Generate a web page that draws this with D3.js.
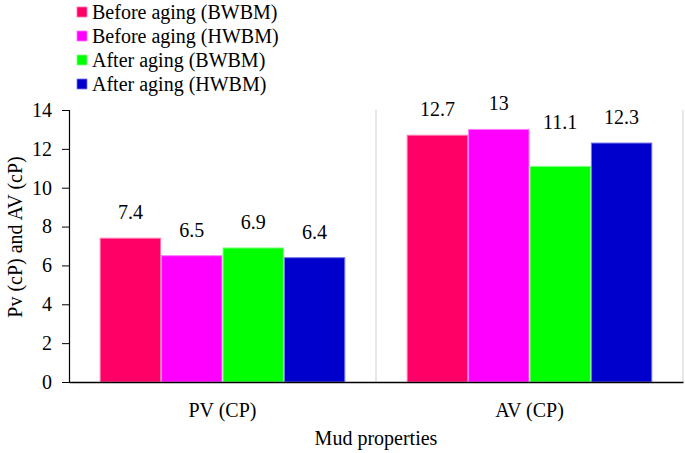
<!DOCTYPE html>
<html><head><meta charset="utf-8">
<script src="https://cdn.jsdelivr.net/npm/d3@7"></script>
<style>body{margin:0;background:#fff}svg{display:block}svg text{fill:#000}</style>
</head><body><svg id="c" width="685" height="453"></svg>
<script>
const categories = ["PV (CP)", "AV (CP)"];
const seriesNames = ["Before aging (BWBM)", "Before aging (HWBM)", "After aging (BWBM)", "After aging (HWBM)"];
const beforeBWBM = [7.4, 12.7];
const beforeHWBM = [6.5, 13];
const afterBWBM = [6.9, 11.1];
const afterHWBM = [6.4, 12.3];
const yTicks = [0, 2, 4, 6, 8, 10, 12, 14];
const colors = ["#FF0066", "#FF00FF", "#00FF00", "#0000CC"];
const strokes = ["#ff77b0", "#ff77ff", "#88ff88", "#7777ee"];

const series = [beforeBWBM, beforeHWBM, afterBWBM, afterHWBM];
const FONT = "'Liberation Serif', 'Noto Serif', 'DejaVu Serif', 'Times New Roman', Times, serif";
const FS = 20;
const svg = d3.select("#c");
const m = {l: 69, r: 2, t: 110, b: 71};
const W = 685, H = 453;
const x0 = d3.scaleBand().domain(categories).range([m.l, W - m.r]).paddingInner(0).paddingOuter(0);
const x1 = d3.scaleBand().domain(d3.range(series.length)).range([0, x0.bandwidth()]).paddingInner(0).paddingOuter(0.5);
const y = d3.scaleLinear().domain([0, 14]).range([H - m.b, m.t]);

// gray dividers
categories.forEach(c => {
  svg.append("line").attr("x1", x0(c) + x0.bandwidth()).attr("x2", x0(c) + x0.bandwidth())
    .attr("y1", y(14)).attr("y2", y(0)).attr("stroke", "#d9d9d9").attr("stroke-width", 1.2);
});

// bars
series.forEach((s, i) => {
  svg.append("g").selectAll("rect").data(s).join("rect")
    .attr("x", (d, j) => x0(categories[j]) + x1(i) + 0.5)
    .attr("y", d => y(d))
    .attr("width", x1.bandwidth() - 1)
    .attr("height", d => y(0) - y(d))
    .attr("fill", colors[i]).attr("stroke", strokes[i]).attr("stroke-width", 1);
  svg.append("g").selectAll("text").data(s).join("text")
    .attr("x", (d, j) => x0(categories[j]) + x1(i) + x1.bandwidth() / 2)
    .attr("y", (d, j) => y(d) - 19 - (d === 11.1 ? 18 : 0))
    .attr("text-anchor", "middle").attr("font-size", FS).style("font-family", FONT).text(d => d);
});

// y axis
const ya = svg.append("g").attr("transform", `translate(${m.l},0)`)
  .call(d3.axisLeft(y).tickValues(yTicks).tickSize(7).tickPadding(10));
ya.attr("font-family", null);
ya.select(".domain").attr("stroke", "#000").attr("stroke-width", 1.2);
ya.selectAll(".tick line").attr("stroke", "#000");
ya.selectAll(".tick text").attr("font-size", FS).style("font-family", FONT).attr("fill", "#000");

// x axis
const xa = svg.append("g").attr("transform", `translate(0,${y(0)})`)
  .call(d3.axisBottom(x0).tickSize(0).tickPadding(21));
xa.attr("font-family", null);
xa.select(".domain").attr("stroke", "#000").attr("stroke-width", 1.5);
xa.selectAll(".tick text").attr("font-size", FS).style("font-family", FONT).attr("fill", "#000");

// axis titles
svg.append("text").attr("x", (m.l + W - m.r) / 2).attr("y", 445).attr("text-anchor", "middle")
  .attr("font-size", FS).style("font-family", FONT).text("Mud properties");
svg.append("text").attr("transform", "translate(22,237) rotate(-90)").attr("text-anchor", "middle")
  .attr("font-size", FS).style("font-family", FONT).text("Pv (cP) and AV (cP)");

// legend
const lg = svg.append("g");
seriesNames.forEach((n, i) => {
  const cy = 12 + i * 24;
  lg.append("rect").attr("x", 77).attr("y", cy - 5).attr("width", 10).attr("height", 10)
    .attr("fill", colors[i]).attr("stroke", strokes[i]).attr("stroke-width", 0.8);
  lg.append("text").attr("x", 92).attr("y", cy + 7).attr("font-size", FS).style("font-family", FONT).text(n);
});
</script></body></html>
